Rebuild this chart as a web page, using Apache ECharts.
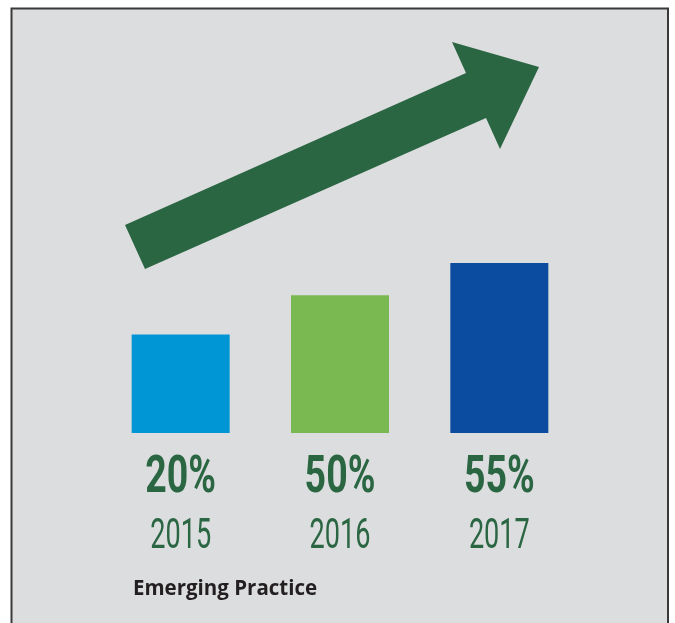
<!DOCTYPE html>
<html>
<head>
<meta charset="utf-8">
<script src="https://cdn.jsdelivr.net/npm/echarts@6/dist/echarts.min.js"></script>
<style>
html,body{margin:0;padding:0;background:#ffffff;}
#chart{width:675px;height:623px;}
</style>
</head>
<body>
<div id="chart"></div>
<script>
// Data
const years = ['2015', '2016', '2017'];
const percentLabels = [20, 50, 55];
// Visual bar heights (relative to the tallest bar = 100)
const barLevels = [58, 81, 100];
const barColors = ['#0096d6', '#7ab852', '#0b4ca0'];
const chartTitle = 'Emerging Practice';

const green = '#2b6643';
const labelFont = "Roboto, 'Liberation Sans', sans-serif";

const chart = echarts.init(document.getElementById('chart'));
chart.setOption({
  backgroundColor: '#ffffff',
  animation: false,
  title: {
    text: chartTitle,
    left: 128,
    top: 574,
    textStyle: {fontFamily: "'Open Sans', sans-serif", fontWeight: 'bold', fontSize: 20.5, color: '#231f20'}
  },
  graphic: [
    {
      type: 'rect', z: -10, silent: true,
      shape: {x: 11.5, y: 8.5, width: 656.5, height: 640},
      style: {fill: '#dcdddf', stroke: '#3a3a3a', lineWidth: 2}
    },
    {
      type: 'polygon', z: 5, silent: true,
      shape: {points: [[125,225],[466,73],[452,42],[539,67],[500,149],[486,118],[145,269]]},
      style: {fill: green}
    }
  ],
  grid: {left: 101, right: 96, top: 263, bottom: 190, containLabel: false},
  xAxis: {
    type: 'category',
    data: years,
    axisLine: {show: false},
    axisTick: {show: false},
    axisLabel: {show: false}
  },
  yAxis: {
    type: 'value', min: 0, max: 100, show: false,
    splitLine: {show: false}
  },
  series: [
    {
      type: 'bar',
      barWidth: 98,
      data: barLevels.map((v, i) => ({value: v, itemStyle: {color: barColors[i]}})),
      label: {show: false}
    },
    {
      type: 'custom',
      silent: true,
      data: percentLabels.map((v, i) => [i, v]),
      renderItem: function (params, api) {
        const i = api.value(0);
        const p = api.coord([i, 0]);
        return {
          type: 'group',
          children: [
            {
              type: 'text', x: p[0], y: p[1] + 46, scaleX: 0.75, scaleY: 1.03,
              style: {text: api.value(1) + '%', fill: green, fontFamily: labelFont, fontWeight: 'bold',
                      fontSize: 50, align: 'center', verticalAlign: 'middle'}
            },
            {
              type: 'text', x: p[0], y: p[1] + 104, scaleX: 0.63,
              style: {text: years[i], fill: green, fontFamily: labelFont, fontWeight: 'normal',
                      fontSize: 43, align: 'center', verticalAlign: 'middle'}
            }
          ]
        };
      }
    }
  ]
});
</script>
</body>
</html>
